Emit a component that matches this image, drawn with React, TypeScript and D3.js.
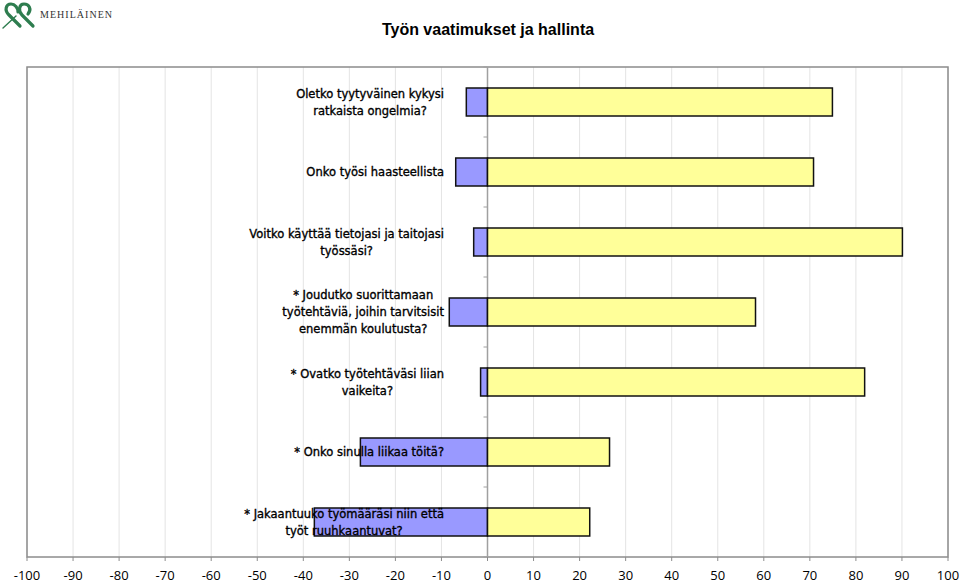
import React from "react";
import * as d3 from "d3";

const questions: string[][] = [
  ["Oletko tyytyväinen kykysi", "ratkaista ongelmia?"],
  ["Onko työsi haasteellista"],
  ["Voitko käyttää tietojasi ja taitojasi", "työssäsi?"],
  ["* Joudutko suorittamaan", "työtehtäviä, joihin tarvitsisit", "enemmän koulutusta?"],
  ["* Ovatko työtehtäväsi liian", "vaikeita?"],
  ["* Onko sinulla liikaa töitä?"],
  ["* Jakaantuuko työmääräsi niin että", "työt ruuhkaantuvat?"],
];
const negativeValues = [-4.6, -6.9, -3.0, -8.3, -1.5, -27.6, -37.6];
const positiveValues = [74.9, 70.8, 90.1, 58.2, 81.9, 26.5, 22.2];
const tickValues = d3.range(-100, 101, 10);
const title = "Työn vaatimukset ja hallinta";

const W = 960, H = 584;
const plot = { left: 27, right: 948, top: 67, bottom: 557 };
const labelFont = "11.5px 'DejaVu Sans', Verdana, sans-serif";

let ctx: CanvasRenderingContext2D | null = null;
function measure(s: string): number {
  if (!ctx) ctx = document.createElement("canvas").getContext("2d");
  if (!ctx) return s.length * 6;
  ctx.font = labelFont;
  return ctx.measureText(s).width;
}

export default function App() {
  const x = d3.scaleLinear().domain([-100, 100]).range([plot.left, plot.right]);
  const y = d3
    .scaleBand<number>()
    .domain(d3.range(questions.length))
    .range([plot.top, plot.bottom])
    .paddingInner(0.6)
    .paddingOuter(0.3);
  const step = y.step();
  const x0 = x(0);
  const labelRight = 444;
  const lineH = 17;

  return (
    <svg width={W} height={H} style={{ position: "absolute", left: 0, top: 0, background: "#fff" }}>
      {/* logo */}
      <g stroke="#2e7d4f" fill="none" strokeLinecap="round">
        <path d="M20,26 L9,15 C4,10 6,4 11,4 C15,4 18,8 18,12" strokeWidth={3.2} />
        <path d="M33,26 L22,15 C18,11 19,4 24,4 C29,4 32,9 28,14" strokeWidth={3.2} />
        <path d="M3,28 L16,16" strokeWidth={1.4} />
      </g>
      <text x={40} y={18} fontFamily="'Liberation Serif', 'DejaVu Serif', serif" fontSize={10} textLength={72} lengthAdjust="spacing" fill="#333">
        MEHILÄINEN
      </text>
      <text x={488} y={35} textAnchor="middle" fontFamily="'Liberation Sans', Arial, sans-serif" fontWeight="bold" fontSize={16} fill="#000">
        {title}
      </text>
      {/* gridlines */}
      {tickValues.map((t) => (
        <line key={"g" + t} x1={x(t)} x2={x(t)} y1={plot.top} y2={plot.bottom} stroke="#e4e4e4" strokeWidth={1} />
      ))}
      {/* frame */}
      <rect x={plot.left} y={plot.top} width={plot.right - plot.left} height={plot.bottom - plot.top} fill="none" stroke="#8c8c8c" strokeWidth={1.5} />
      {/* zero axis */}
      <line x1={x0} x2={x0} y1={plot.top} y2={plot.bottom} stroke="#a0a0a0" strokeWidth={1.5} />
      {d3.range(questions.length + 1).map((i) => (
        <line key={"zt" + i} x1={x0 - 4} x2={x0} y1={plot.top + i * step} y2={plot.top + i * step} stroke="#a0a0a0" strokeWidth={1} />
      ))}
      {/* bottom ticks */}
      {tickValues.map((t) => (
        <g key={"t" + t}>
          <line x1={x(t)} x2={x(t)} y1={plot.bottom} y2={plot.bottom + 4} stroke="#8c8c8c" strokeWidth={1} />
          <text x={x(t)} y={plot.bottom + 23} textAnchor="middle" fontFamily="'Open Sans', 'Noto Sans', sans-serif" fontSize={13} fill="#000">
            {t}
          </text>
        </g>
      ))}
      {/* bars */}
      {questions.map((_, i) => (
        <g key={"b" + i}>
          <rect x={x(negativeValues[i])} y={y(i)} width={x0 - x(negativeValues[i])} height={y.bandwidth()} fill="#9999ff" stroke="#111" strokeWidth={1.5} />
          <rect x={x0} y={y(i)} width={x(positiveValues[i]) - x0} height={y.bandwidth()} fill="#ffff99" stroke="#111" strokeWidth={1.5} />
        </g>
      ))}
      {/* labels */}
      {questions.map((lines, i) => {
        const maxW = Math.max(...lines.map(measure));
        const cx = labelRight - maxW / 2;
        const cy = (y(i) as number) + y.bandwidth() / 2;
        const startY = cy - ((lines.length - 1) * lineH) / 2;
        return (
          <text key={"l" + i} textAnchor="middle" fill="#000" stroke="#000" strokeWidth={0.35} style={{ font: labelFont }}>
            {lines.map((ln, j) => (
              <tspan key={j} x={cx} y={startY + j * lineH} dy="0.35em">
                {ln}
              </tspan>
            ))}
          </text>
        );
      })}
    </svg>
  );
}
